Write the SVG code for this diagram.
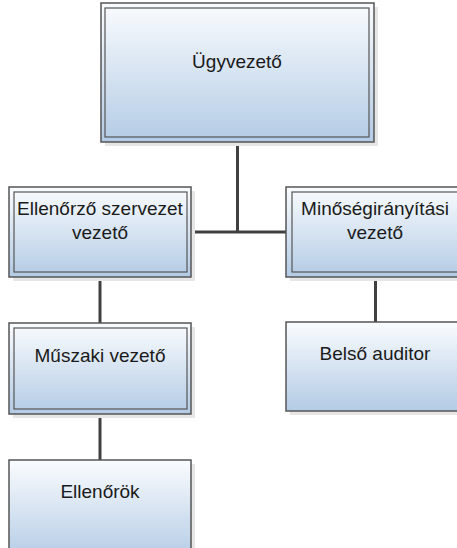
<svg xmlns="http://www.w3.org/2000/svg" width="457" height="548" viewBox="0 0 457 548">
<defs>
<linearGradient id="g" x1="0" y1="0" x2="0" y2="1">
<stop offset="0" stop-color="#fafcfe"/>
<stop offset="1" stop-color="#b3cbe5"/>
</linearGradient>
</defs>
<style>
.sh{fill:#e6e6e6}
.box{fill:url(#g);stroke:#555555;stroke-width:1.5}
.in{fill:none;stroke:#555555;stroke-width:1.2}
.c{fill:none;stroke:#404040;stroke-width:3}
text{font-family:"Liberation Sans",Arial,sans-serif;font-size:19px;fill:#1a1a1a;text-anchor:middle}
</style>
<g id="connectors">
<path class="c" d="M237.5,142 V232 M191,232 H286"/>
<path class="c" d="M100,277 V323"/>
<path class="c" d="M100,414 V460"/>
<path class="c" d="M375.5,277 V322"/>
</g>
<g id="ugyvezeto">
<rect class="sh" x="105" y="7" width="273" height="139"/>
<rect class="box" x="101" y="3" width="273" height="139"/>
<rect class="in" x="105" y="8" width="264" height="129"/>
<text x="237" y="68">Ügyvezető</text>
</g>
<g id="ellenorzo">
<rect class="sh" x="13" y="191" width="182" height="90"/>
<rect class="box" x="9" y="187" width="182" height="90"/>
<rect class="in" x="14" y="192" width="173" height="80"/>
<text x="100" y="215">Ellenőrző szervezet</text>
<text x="100" y="239">vezető</text>
</g>
<g id="minoseg">
<rect class="sh" x="290" y="191" width="180" height="90"/>
<rect class="box" x="286" y="187" width="180" height="90"/>
<rect class="in" x="292" y="192" width="170" height="80"/>
<text x="375" y="215">Minőségirányítási</text>
<text x="375" y="239">vezető</text>
</g>
<g id="muszaki">
<rect class="sh" x="13" y="327" width="182" height="91"/>
<rect class="box" x="9" y="323" width="182" height="91"/>
<rect class="in" x="14" y="328" width="173" height="81"/>
<text x="100" y="362">Műszaki vezető</text>
</g>
<g id="belso">
<rect class="sh" x="290" y="326" width="180" height="89"/>
<rect class="box" x="286" y="322" width="180" height="89"/>
<text x="375" y="360">Belső auditor</text>
</g>
<g id="ellenorok">
<rect class="sh" x="13" y="464" width="182" height="100"/>
<rect class="box" x="9" y="460" width="182" height="100"/>
<text x="100" y="498">Ellenőrök</text>
</g>
</svg>
